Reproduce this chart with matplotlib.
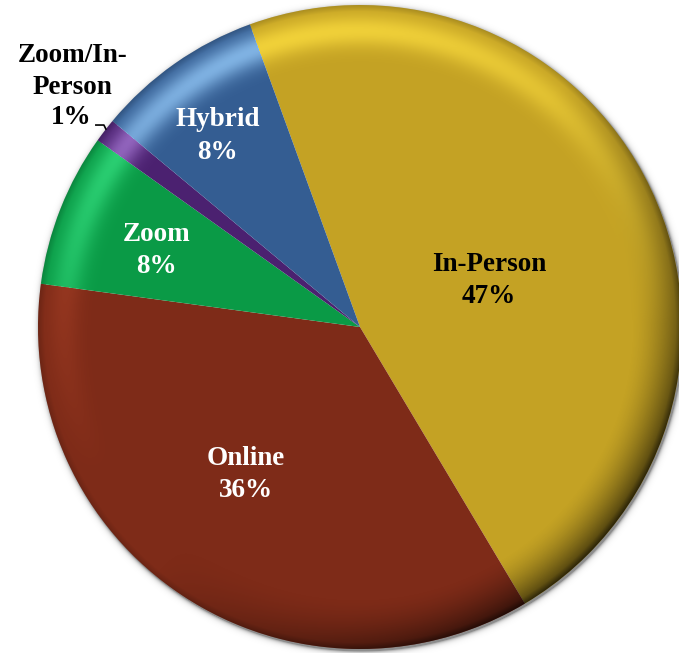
import matplotlib
matplotlib.use("Agg")
import matplotlib.pyplot as plt
from matplotlib.patches import Circle
from matplotlib.colors import to_rgb
import numpy as np

# share of sessions by format
categories = ["In-Person", "Online", "Zoom", "Zoom/In-\nPerson", "Hybrid"]
shares = [47.0, 35.7, 7.7, 1.2, 8.4]
pct_text = ["47%", "36%", "8%", "1%", "8%"]

COLORS = ["#c4a224", "#7e2b18", "#0a9a46", "#4b2170", "#345d92"]
GLOSS = ["#ffe040", "#b8482c", "#3ff08e", "#b98ae8", "#9ad0ff"]   # rim highlight tints
TXT = ["black", "white", "white", "black", "white"]
FONT = dict(fontsize=19.5, fontweight="bold", family="Liberation Serif")

W, H = 679, 653
fig = plt.figure(figsize=(W / 100, H / 100), dpi=100)
ax = fig.add_axes([0, 0, 1, 1])

cx, cy, R = 360, 326, 322

# thin soft shadow around the disc, heavier to the lower right
yy, xx = np.mgrid[0:H, 0:W] + 0.5
d = np.hypot(xx - cx - 1.5, yy - cy + 2)
sh = np.zeros((H, W, 4))
sh[..., 3] = 0.45 * np.exp(-np.clip(d - R, 0, None) / 2.0) * (d > R - 3)
ax.imshow(sh, extent=(0, W, 0, H), origin="lower", zorder=0, interpolation="bilinear")

wedges, _ = ax.pie(shares, colors=COLORS, startangle=110, counterclock=False,
                   center=(cx, cy), radius=R, frame=True,
                   wedgeprops=dict(linewidth=0, zorder=1))
ax.set_xlim(0, W); ax.set_ylim(0, H)
ax.set_aspect("equal"); ax.axis("off")

# which wedge each pixel is in (clockwise from the start angle)
u = np.hypot(xx - cx, yy - cy) / R
th = np.degrees(np.arctan2(yy - cy, xx - cx))
ang = (110 - th) % 360
edges = np.cumsum(shares) / np.sum(shares) * 360
idx = np.clip(np.searchsorted(edges, ang), 0, len(shares) - 1)
gloss = np.array([to_rgb(c) for c in GLOSS])[idx]

# bevel on the rim: light from the top, dark toward the lower right
lit = np.cos(np.radians(th - 105))
hi = np.clip(lit + 0.25, 0, None) / 1.25 * np.exp(-((u - 0.92) / 0.05) ** 2) * 0.75
dark = np.clip(np.cos(np.radians(th + 40)), 0, None)
dk = dark * np.clip((u - 0.84) / 0.16, 0, 1) ** 1.6 * 0.65
edge = np.clip((u - 0.98) / 0.02, 0, 1) * 0.15
a = hi + dk + edge
wf = np.where(a > 0, hi / np.maximum(a, 1e-9), 0)[..., None]
shade = np.zeros((H, W, 4))
shade[..., :3] = gloss * wf
shade[..., 3] = np.clip(a, 0, 0.85)
im = ax.imshow(shade, extent=(0, W, 0, H), origin="lower", zorder=2, interpolation="bilinear")
im.set_clip_path(Circle((cx, cy), R, transform=ax.transData))

# labels inside wedges (radius fraction, angle nudge in degrees)
lab_r = [0.43, 0.57, 0.68, None, 0.75]
lab_da = [-4, -5, 0, 0, 1]
for w, name, p, c, rf, da in zip(wedges, categories, pct_text, TXT, lab_r, lab_da):
    if rf is None:
        continue
    mid = np.radians((w.theta1 + w.theta2) / 2 + da)
    ax.text(cx + rf * R * np.cos(mid), cy + rf * R * np.sin(mid) - 4, f"{name}\n{p}",
            ha="center", va="center", color=c, linespacing=1.38, zorder=5, **FONT)

# the small slice gets an outside label with a leader
w = wedges[3]
mid = np.radians((w.theta1 + w.theta2) / 2)
ex, ey = cx + R * np.cos(mid), cy + R * np.sin(mid)
ax.plot([ex - 9, ex - 1, ex + 1], [ey + 5.5, ey + 5.5, ey + 1.5], color="black", lw=1.2, zorder=5)
ax.text(ex - 13, ey + 13, "1%", ha="right", va="center", color="black", zorder=5, **FONT)
ax.text(ex - 32, ey + 59, "Zoom/In-\nPerson", ha="center", va="center", color="black",
        linespacing=1.38, zorder=5, **FONT)

plt.savefig("out.png", dpi=100)
